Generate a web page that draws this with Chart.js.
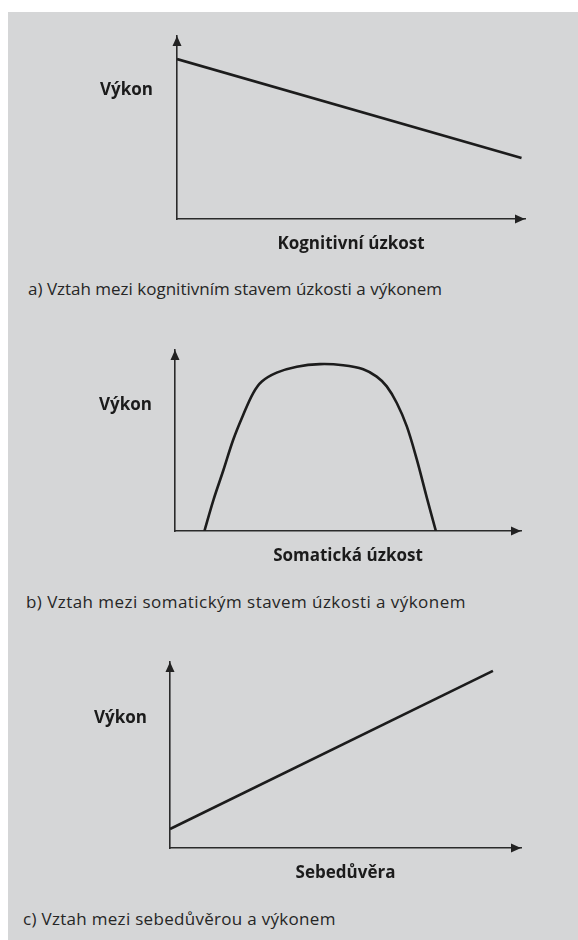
<!DOCTYPE html>
<html>
<head>
<meta charset="utf-8">
<script src="https://cdn.jsdelivr.net/npm/chart.js@4.4.1/dist/chart.umd.min.js"></script>
<style>
  html, body { margin:0; padding:0; background:#ffffff; }
  #page { position:absolute; left:8px; top:12px; width:570px; height:928px; background:#d5d6d7; }
  canvas { position:absolute; left:0; }
  .lbl { position:absolute; font-family:"Open Sans", sans-serif; color:#1b1b1b; white-space:nowrap; z-index:2; }
  .yl { font-weight:700; font-size:17px; line-height:20px; }
  .cap { font-weight:400; font-size:17px; line-height:20px; color:#262626; }
</style>
</head>
<body>
<div id="page"></div>
<canvas id="cA" width="578" height="250" style="top:20px;width:578px;height:250px"></canvas>
<canvas id="cB" width="578" height="260" style="top:320px;width:578px;height:260px"></canvas>
<canvas id="cC" width="578" height="260" style="top:640px;width:578px;height:260px"></canvas>

<div class="lbl yl" style="left:100px;top:79px">Výkon</div>
<div class="lbl cap" style="left:28px;top:279px">a) Vztah mezi kognitivním stavem úzkosti a výkonem</div>
<div class="lbl yl" style="left:99px;top:394px">Výkon</div>
<div class="lbl cap" style="left:26px;top:592px;letter-spacing:0.45px">b) Vztah mezi somatickým stavem úzkosti a výkonem</div>
<div class="lbl yl" style="left:94px;top:707px">Výkon</div>
<div class="lbl cap" style="left:23px;top:909px;letter-spacing:0.3px">c) Vztah mezi sebedůvěrou a výkonem</div>

<script>
// ---- data ----
const titleA = "Kognitivní úzkost";
const xA = [0, 9.9];
const yA = [8.74, 3.33];

const titleB = "Somatická úzkost";
const xB = [0.85, 1.11, 1.40, 1.68, 1.97, 2.26, 2.51, 2.94, 3.52, 4.19, 4.86, 5.44, 5.83, 6.12, 6.41, 6.70, 6.99, 7.27, 7.54];
const yB = [0, 1.71, 3.37, 5.03, 6.41, 7.62, 8.26, 8.75, 9.08, 9.22, 9.16, 8.94, 8.53, 7.99, 7.07, 5.78, 3.94, 1.90, 0];

const titleC = "Sebedůvěra";
const xC = [0, 9.2];
const yC = [1.02, 9.52];

const axisMin = 0, axisMax = 10;

// ---- helpers ----
const arrowPlugin = {
  id: 'arrows',
  afterDraw(chart) {
    const {ctx, chartArea: a} = chart;
    ctx.save();
    ctx.fillStyle = '#222';
    ctx.beginPath();
    ctx.moveTo(a.left, a.top);
    ctx.lineTo(a.left - 4.5, a.top + 10);
    ctx.lineTo(a.left + 4.5, a.top + 10);
    ctx.closePath(); ctx.fill();
    ctx.beginPath();
    ctx.moveTo(a.right, a.bottom);
    ctx.lineTo(a.right - 10, a.bottom - 4.5);
    ctx.lineTo(a.right - 10, a.bottom + 4.5);
    ctx.closePath(); ctx.fill();
    ctx.restore();
  }
};

function makeChart(id, canvasTop, canvasH, area, titleCenterY, xs, ys, title, tension) {
  const fontSize = 17, lh = 20;
  const padBottom = canvasH - (titleCenterY - canvasTop) - lh / 2;
  const xHeight = canvasH - padBottom - (area.bottom - canvasTop);
  const pts = xs.map((x, i) => ({x, y: ys[i]}));
  return new Chart(document.getElementById(id), {
    type: 'line',
    data: { datasets: [{ data: pts, borderColor: '#1c1c1c', borderWidth: 2.6, pointRadius: 0,
      tension: tension, fill: false, capBezierPoints: true }] },
    options: {
      responsive: false, animation: false,
      layout: { padding: { left: area.left, right: 578 - area.right, top: area.top - canvasTop, bottom: padBottom } },
      plugins: { legend: { display: false }, tooltip: { enabled: false } },
      scales: {
        x: { type: 'linear', min: axisMin, max: axisMax,
          ticks: { display: false }, grid: { display: false, drawTicks: false },
          border: { display: true, color: '#2a2a2a', width: 1.6 },
          title: { display: true, text: title, color: '#1b1b1b', padding: 0,
            font: { family: 'Open Sans', weight: 'bold', size: fontSize, lineHeight: lh / fontSize } },
          afterFit: s => { s.height = xHeight; } },
        y: { type: 'linear', min: axisMin, max: axisMax,
          ticks: { display: false }, grid: { display: false, drawTicks: false },
          border: { display: true, color: '#2a2a2a', width: 1.6 },
          afterFit: s => { s.width = 0; } }
      }
    },
    plugins: [arrowPlugin]
  });
}

makeChart('cA', 20, 250, {left:177, right:525, top:36, bottom:219}, 244, xA, yA, titleA, 0);
makeChart('cB', 320, 260, {left:175, right:521, top:350, bottom:531}, 556, xB, yB, titleB, 0.35);
makeChart('cC', 640, 260, {left:170, right:521, top:662, bottom:848}, 873, xC, yC, titleC, 0);
</script>
</body>
</html>
